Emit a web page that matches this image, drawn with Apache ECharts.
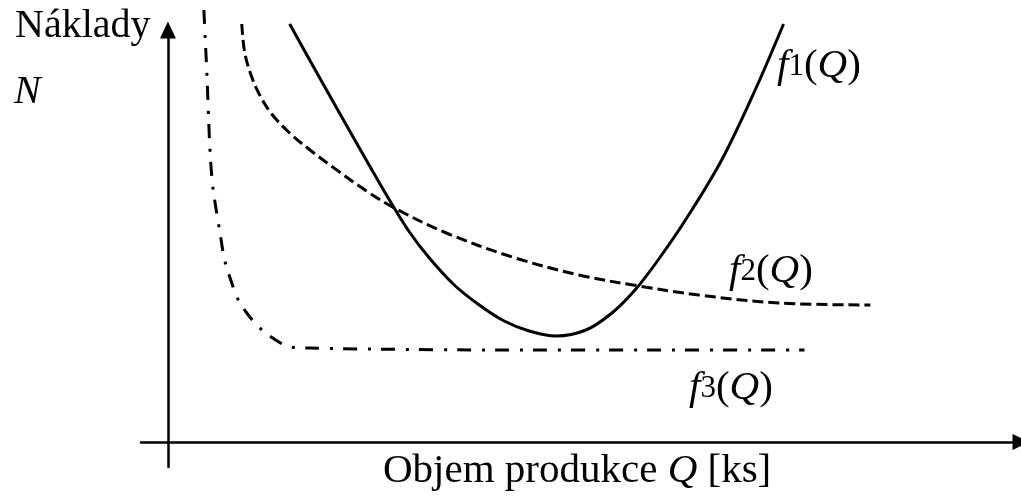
<!DOCTYPE html>
<html>
<head>
<meta charset="utf-8">
<script src="https://cdn.jsdelivr.net/npm/echarts@6/dist/echarts.min.js"></script>
<style>html,body{margin:0;padding:0;background:#fff}#c{width:1021px;height:498px}</style>
</head>
<body>
<div id="c"></div>
<script>
// values (x: quantity, y: cost), origin at the axes crossing
const f1X = [122,155,189,222,242,262,287,312,337,362,389,419,445,469,492,520,555,589,617];
const f1Y = [418,359,299,242,210,184,157,137,121,111,106,112,129,153,183,224,282,353,418];
const f2X = [74,77,84,92,104,122,145,172,199,227,279,345,412,472,532,612,704];
const f2Y = [418,389,365,347,328,309,290,270,251,234,209,185,167,156,147,139,137];
const f3X = [36,39,42,45,53,57,64,69,79,91,105,122,142,199,332,482,638];
const f3Y = [432,369,295,255,204,181,159,145,129,115,104,95,94,93,92,92,92];
const xTitle = 'Objem produkce ';
const yTitle = 'Náklady';
const yVar = 'N';
const seriesNames = ['1','2','3'];

const FONT = '"Liberation Serif", "Times New Roman", serif';
const pairs = (xs, ys) => xs.map((x, i) => [x, ys[i]]);

const chart = echarts.init(document.getElementById('c'), null, {renderer: 'canvas'});
const axisCommon = {
  type: 'value',
  axisLine: {onZero: true, symbol: ['none', 'triangle'], symbolSize: [16, 17],
    lineStyle: {color: '#000', width: 2.5}},
  axisTick: {show: false}, axisLabel: {show: false}, splitLine: {show: false}
};
const lineSeries = (name, data, type, smooth) => ({
  name, type: 'line', data, smooth, showSymbol: false, symbol: 'none', clip: false,
  lineStyle: {color: '#000', width: 3, type: type, cap: 'butt'}
});
const rich = {
  n: {fontFamily: FONT, fontSize: 41, color: '#000'},
  i: {fontFamily: FONT, fontSize: 41, fontStyle: 'italic', color: '#000'},
  s: {fontFamily: FONT, fontSize: 31, color: '#000'}
};
const fLabel = (k, x, y) => ({
  type: 'text', left: x, top: y,
  style: {text: '{i|f}{s|' + k + '}{n|(}{i|Q}{n|)}', rich: rich}
});
chart.setOption({
  animation: false,
  grid: {left: 141, right: -2, top: 30, bottom: 31},
  xAxis: Object.assign({}, axisCommon, {min: -27, max: 855}),
  yAxis: Object.assign({}, axisCommon, {min: -25, max: 412}),
  series: [
    lineSeries('f1', pairs(f1X, f1Y), 'solid', 0.35),
    lineSeries('f2', pairs(f2X, f2Y), [11, 5], 0.35),
    lineSeries('f3', pairs(f3X, f3Y), [14, 11, 3, 10], 0.3)
  ],
  graphic: [
    {type: 'text', left: 15, top: 6, style: {text: yTitle, font: '40px ' + FONT, fill: '#000'}},
    {type: 'text', left: 14, top: 72, style: {text: yVar, font: 'italic 40px ' + FONT, fill: '#000'}},
    {type: 'text', left: 383, top: 451, style: {text: '{n|' + xTitle + '}{i|Q}{n| [ks]}', rich: rich}},
    fLabel(seriesNames[0], 777, 46),
    fLabel(seriesNames[1], 729, 251),
    fLabel(seriesNames[2], 689, 368)
  ]
});
</script>
</body>
</html>
